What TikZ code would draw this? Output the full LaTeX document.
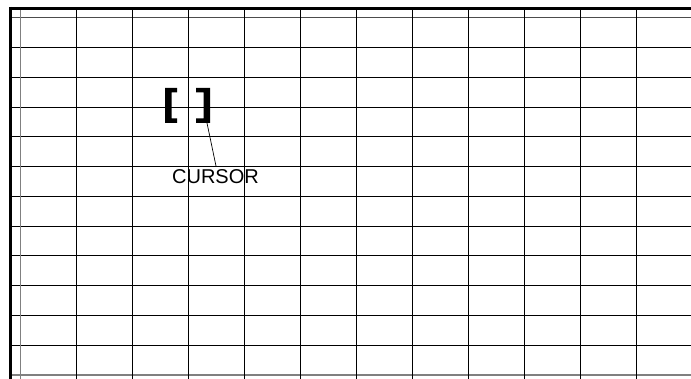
\documentclass[tikz,border=0pt]{standalone}
\usepackage{fontspec}
\setmainfont{Liberation Sans}
\begin{document}
\begin{tikzpicture}[x=1pt,y=-1pt,
  gridline/.style={line width=1pt,black},
  heavyline/.style={line width=3pt,black},
  bracketfill/.style={fill=black,draw=none},
  leader/.style={line width=0.7pt,black},
  label/.style={font=\fontsize{20}{20}\selectfont,inner sep=0pt,anchor=north}]
\useasboundingbox (0,0) rectangle (691,379);
% horizontal grid lines
\foreach \y in {47.5,77.5,107.5,136.5,166.5,196.5,226.5,255.5,285.5,315.5,345.5}{
  \draw[gridline] (9,\y) -- (691,\y);
}
\draw[line width=1pt,black!70] (9,17.5) -- (691,17.5);
\draw[line width=2pt,black!50] (9,375) -- (691,375);
% vertical grid lines
\foreach \k in {1,...,11}{
  \draw[gridline] (20.5+56*\k,8) -- (20.5+56*\k,379);
}
\draw[line width=1pt,black!50] (20.5,8) -- (20.5,379);
% heavy border
\draw[heavyline] (9,8.5) -- (691,8.5);
\draw[heavyline] (10.5,7) -- (10.5,379);
% cursor brackets
\fill[bracketfill] (165,88) -- (177,88) -- (177,92.5) -- (171.5,92.5) -- (171.5,118.5) -- (177,118.5) -- (177,123) -- (165,123) -- cycle;
\fill[bracketfill] (210,88) -- (196,88) -- (196,92.5) -- (203.5,92.5) -- (203.5,118.5) -- (196,118.5) -- (196,123) -- (210,123) -- cycle;
\coordinate (rb) at (207,123);
\node[label] (cursor) at (215.5,169) {CURSOR};
\coordinate (lend) at (216,166);
\draw[leader] (rb) -- (lend);
\end{tikzpicture}
\end{document}
